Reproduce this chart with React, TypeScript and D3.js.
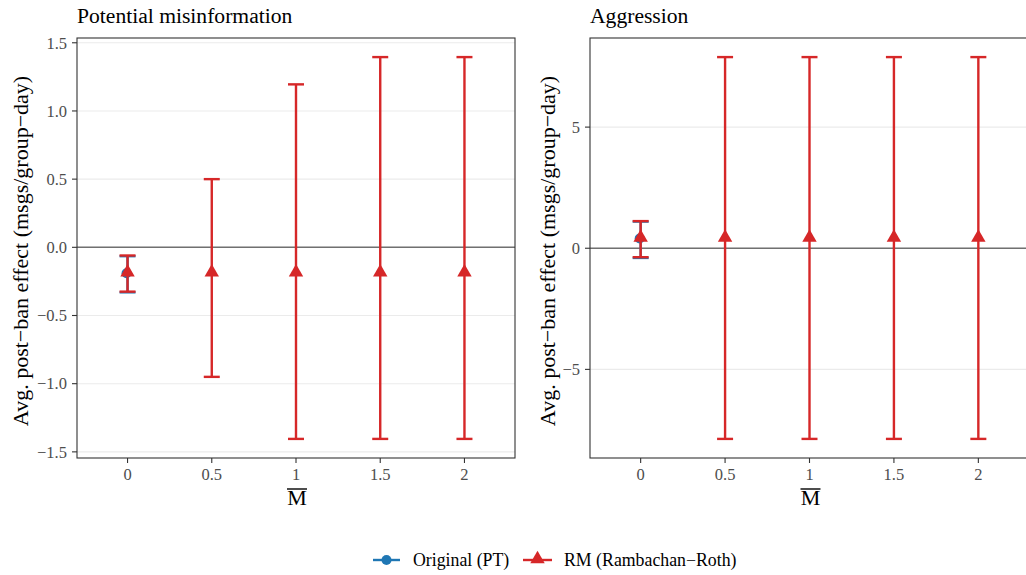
import React from 'react';
import * as d3 from 'd3';

const mbarLevels = ['0', '0.5', '1', '1.5', '2'];

// Potential misinformation
const misPT = { m: '0', est: -0.19, lo: -0.33, hi: -0.065 };
const misRM = [
  { m: '0', est: -0.19, lo: -0.325, hi: -0.06 },
  { m: '0.5', est: -0.19, lo: -0.95, hi: 0.50 },
  { m: '1', est: -0.19, lo: -1.405, hi: 1.195 },
  { m: '1.5', est: -0.19, lo: -1.405, hi: 1.395 },
  { m: '2', est: -0.19, lo: -1.405, hi: 1.395 },
];
const misTicks = [-1.5, -1.0, -0.5, 0.0, 0.5, 1.0, 1.5];

// Aggression
const aggPT = { m: '0', est: 0.4, lo: -0.4, hi: 1.1 };
const aggRM = [
  { m: '0', est: 0.4, lo: -0.37, hi: 1.12 },
  { m: '0.5', est: 0.4, lo: -7.87, hi: 7.89 },
  { m: '1', est: 0.4, lo: -7.87, hi: 7.89 },
  { m: '1.5', est: 0.4, lo: -7.87, hi: 7.89 },
  { m: '2', est: 0.4, lo: -7.87, hi: 7.89 },
];
const aggTicks = [-5, 0, 5];

const BLUE = '#1f77b4';
const RED = '#d62728';
const FONT = '"Liberation Serif", "DejaVu Serif", serif';
const TOP = 38;
const BOTTOM = 458;

const tri = d3.symbol().type(d3.symbolTriangle).size(90)();

type Row = { m: string; est: number; lo: number; hi: number };

function Panel({ x0, x1, title, pt, rm, ticks, fmt, ylabX }: {
  x0: number; x1: number; title: string; pt: Row; rm: Row[]; ticks: number[]; fmt: (v: number) => string; ylabX: number;
}) {
  const x = d3.scalePoint().domain(mbarLevels).range([x0, x1]).padding(0.6);
  const all = [pt, ...rm].flatMap(d => [d.lo, d.hi]);
  const [mn, mx] = d3.extent(all) as [number, number];
  const pad = (mx - mn) * 0.05;
  const y = d3.scaleLinear().domain([mn - pad, mx + pad]).range([BOTTOM, TOP]);
  const cap = 8;
  const cx = (x0 + x1) / 2;
  const bar = (d: Row, col: string, key: string) => {
    const px = x(d.m)!;
    return (
      <g key={key} stroke={col} strokeWidth={2.4}>
        <line x1={px} x2={px} y1={y(d.lo)} y2={y(d.hi)} />
        <line x1={px - cap} x2={px + cap} y1={y(d.lo)} y2={y(d.lo)} />
        <line x1={px - cap} x2={px + cap} y1={y(d.hi)} y2={y(d.hi)} />
      </g>
    );
  };
  return (
    <g>
      <text x={x0} y={23} fontSize={21.6} fill="#000">{title}</text>
      <rect x={x0} y={TOP} width={x1 - x0} height={BOTTOM - TOP} fill="white" />
      {ticks.map(t => (
        <line key={'g' + t} x1={x0} x2={x1} y1={y(t)} y2={y(t)} stroke="#ebebeb" strokeWidth={1.1} />
      ))}
      <line x1={x0} x2={x1} y1={y(0)} y2={y(0)} stroke="#707070" strokeWidth={1.4} />
      {bar(pt, BLUE, 'pt')}
      <circle cx={x(pt.m)! - 1} cy={y(pt.est)} r={5} fill={BLUE} />
      {rm.map((d, i) => bar(d, RED, 'rm' + i))}
      {rm.map((d, i) => (
        <path key={'t' + i} d={tri} transform={`translate(${x(d.m)},${y(d.est) - 1})`} fill={RED} />
      ))}
      <rect x={x0} y={TOP} width={x1 - x0} height={BOTTOM - TOP} fill="none" stroke="#333" strokeWidth={1.1} />
      {ticks.map(t => (
        <g key={'yt' + t}>
          <line x1={x0 - 5} x2={x0} y1={y(t)} y2={y(t)} stroke="#333" strokeWidth={1.1} />
          <text x={x0 - 10} y={y(t)} dy="0.35em" textAnchor="end" fontSize={16.5} fill="#4d4d4d">{fmt(t)}</text>
        </g>
      ))}
      {mbarLevels.map(m => (
        <g key={'xt' + m}>
          <line x1={x(m)} x2={x(m)} y1={BOTTOM} y2={BOTTOM + 5} stroke="#333" strokeWidth={1.1} />
          <text x={x(m)} y={BOTTOM + 22} textAnchor="middle" fontSize={16.5} fill="#4d4d4d">{m}</text>
        </g>
      ))}
      <text x={cx + 1} y={BOTTOM + 47} textAnchor="middle" fontSize={22} fill="#000">M</text>
      <line x1={cx - 9} x2={cx + 11} y1={BOTTOM + 31} y2={BOTTOM + 31} stroke="#000" strokeWidth={1.4} />
      <text transform={`translate(${ylabX},${(TOP + BOTTOM) / 2 + 3}) rotate(-90)`} textAnchor="middle" fontSize={22} fill="#000">
        Avg. post−ban effect (msgs/group−day)
      </text>
    </g>
  );
}

const fmt1 = (v: number) => (v < 0 ? '−' : '') + Math.abs(v).toFixed(1);
const fmt0 = (v: number) => (v < 0 ? '−' : '') + Math.abs(v).toString();

export default function App() {
  return (
    <svg width={1026} height={575} style={{ position: 'absolute', left: 0, top: 0, background: 'white', fontFamily: FONT }}>
      <rect width={1026} height={575} fill="white" />
      <Panel x0={77} x1={515} title="Potential misinformation" pt={misPT} rm={misRM} ticks={misTicks} fmt={fmt1} ylabX={28} />
      <Panel x0={590} x1={1029} title="Aggression" pt={aggPT} rm={aggRM} ticks={aggTicks} fmt={fmt0} ylabX={555} />
      <g fontSize={17.8}>
        <line x1={373} x2={400} y1={560} y2={560} stroke={BLUE} strokeWidth={2.4} />
        <circle cx={386.5} cy={560} r={5} fill={BLUE} />
        <text x={413} y={566} fill="#000">Original (PT)</text>
        <line x1={523} x2={552} y1={560} y2={560} stroke={RED} strokeWidth={2.4} />
        <path d={tri} transform="translate(537.5,559)" fill={RED} />
        <text x={564} y={566} fill="#000">RM (Rambachan−Roth)</text>
      </g>
    </svg>
  );
}
